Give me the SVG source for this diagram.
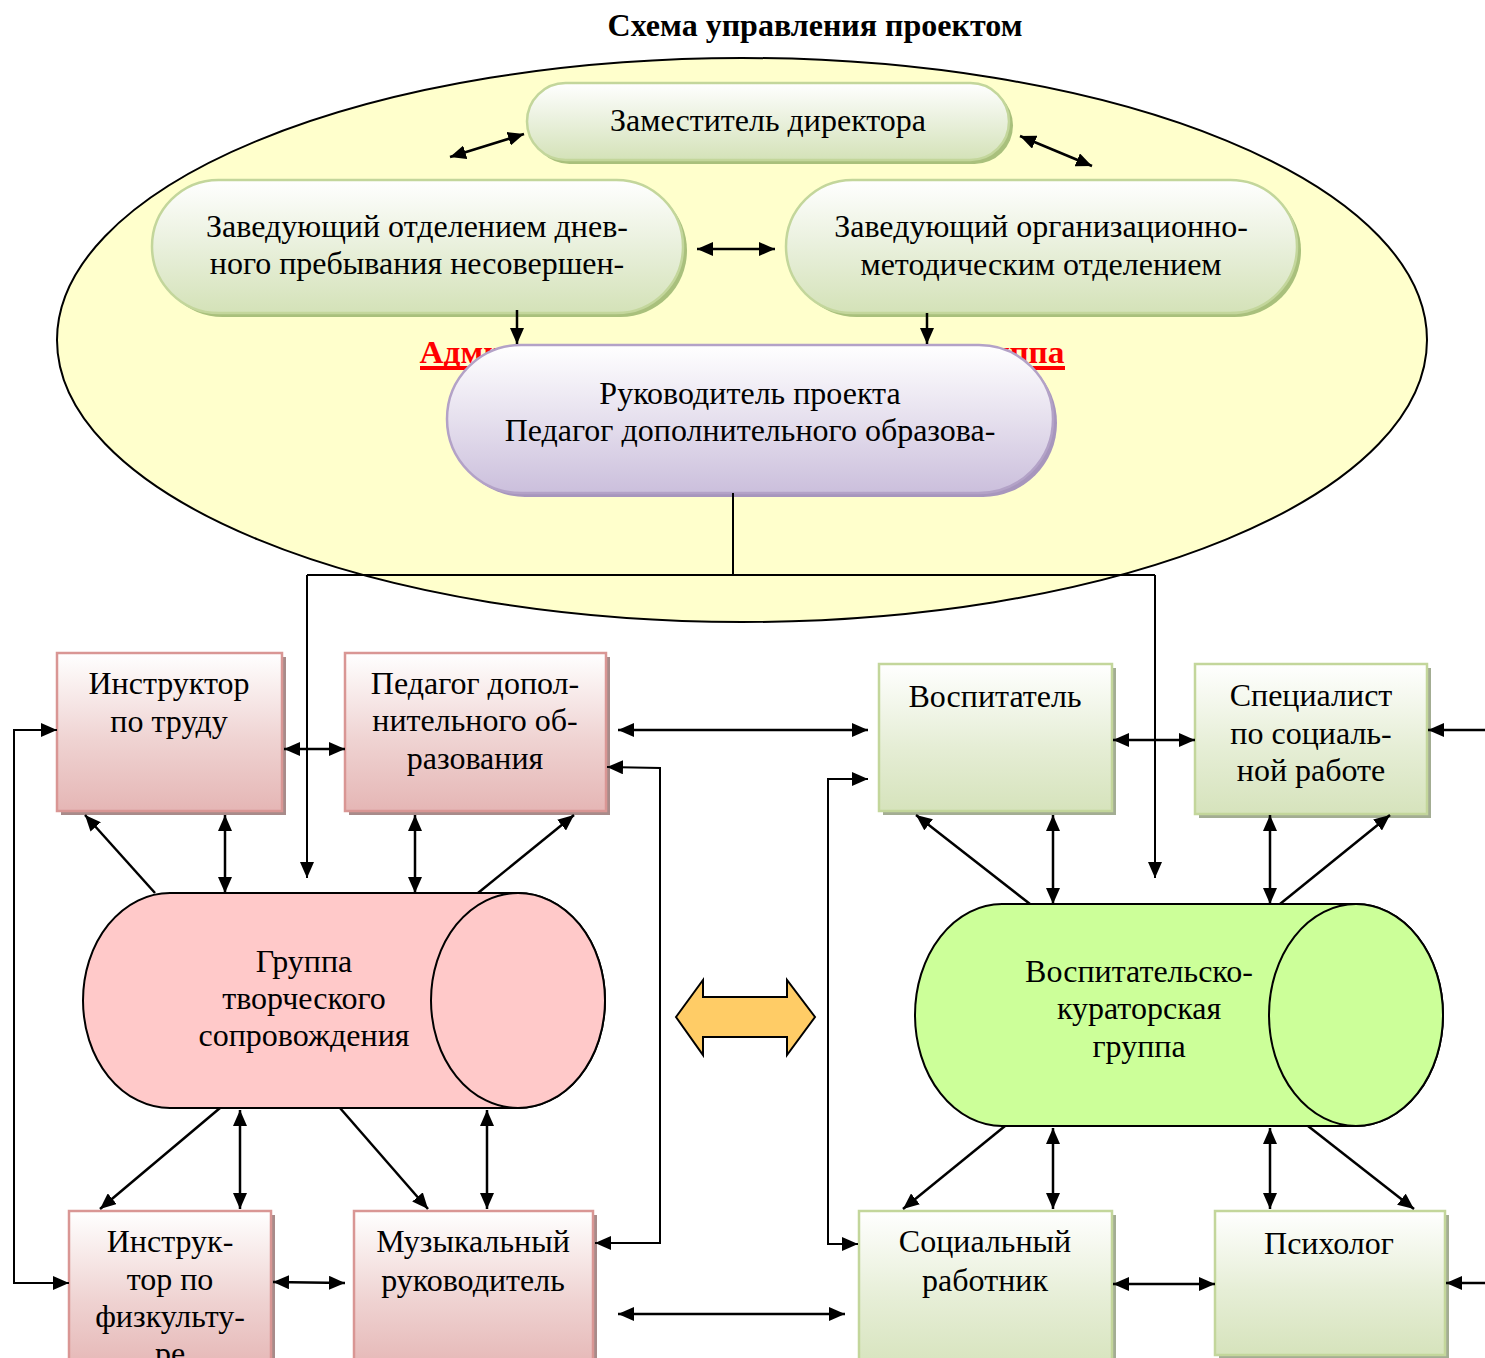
<svg xmlns="http://www.w3.org/2000/svg" width="1485" height="1358" viewBox="0 0 1485 1358">
<defs>
  <linearGradient id="gPink" x1="0" y1="0" x2="0" y2="1">
    <stop offset="0" stop-color="#ffffff"/>
    <stop offset="0.55" stop-color="#efd3d2"/>
    <stop offset="1" stop-color="#e5b6b5"/>
  </linearGradient>
  <linearGradient id="gGreen" x1="0" y1="0" x2="0" y2="1">
    <stop offset="0" stop-color="#ffffff"/>
    <stop offset="0.55" stop-color="#e6eed6"/>
    <stop offset="1" stop-color="#d6e3bc"/>
  </linearGradient>
  <linearGradient id="gPill" x1="0" y1="0" x2="0" y2="1">
    <stop offset="0" stop-color="#ffffff"/>
    <stop offset="0.5" stop-color="#e9f0dc"/>
    <stop offset="1" stop-color="#d4e2b8"/>
  </linearGradient>
  <linearGradient id="gPurple" x1="0" y1="0" x2="0" y2="1">
    <stop offset="0" stop-color="#ffffff"/>
    <stop offset="0.5" stop-color="#e6e0ee"/>
    <stop offset="1" stop-color="#cbbfdc"/>
  </linearGradient>
  <marker id="ah" markerUnits="userSpaceOnUse" markerWidth="18" markerHeight="14" refX="16" refY="7" orient="auto-start-reverse">
    <path d="M0,0 L16,7 L0,14 Z" fill="#000"/>
  </marker>
  <style>
    .t { font-family: "Liberation Serif", "Times New Roman", serif; font-size: 32px; fill: #000; text-anchor: middle; }
    .pinkbox { fill: url(#gPink); stroke: #d99694; stroke-width: 2.5; }
    .pinkshadow { fill: #a88b8a; }
    .greenbox { fill: url(#gGreen); stroke: #c3d69b; stroke-width: 2.5; }
    .greenshadow { fill: #a3ad93; }
    .pill { fill: url(#gPill); stroke: #c3d69b; stroke-width: 2.5; }
    .pillshadow { fill: #a9c07c; }
    .conn { stroke: #000; stroke-width: 2.5; fill: none; }
    .thin { stroke: #000; stroke-width: 2; fill: none; }
  </style>
</defs>

<rect x="0" y="0" width="1485" height="1358" fill="#ffffff"/>

<text x="815" y="36" class="t" style="font-weight:bold;font-size:32px">Схема управления проектом</text>

<g id="admin-area">
  <ellipse cx="742" cy="340" rx="685" ry="282" fill="#ffffcc" stroke="#000" stroke-width="2"/>
  <text x="742" y="363" style="font-family:'Liberation Serif',serif;font-weight:bold;font-size:32px;fill:#ff0000;text-anchor:middle" textLength="645" lengthAdjust="spacingAndGlyphs">Административно-управленческая группа</text>
  <rect x="420" y="366" width="645" height="4" fill="#ff0000"/>
</g>

<g id="node-deputy">
  <rect x="531" y="87" width="482" height="77" rx="38.5" class="pillshadow"/>
  <rect x="527" y="83" width="482" height="77" rx="38.5" class="pill"/>
  <text x="768" y="131" class="t">Заместитель директора</text>
</g>

<g id="node-head-day">
  <rect x="156" y="184" width="531" height="133" rx="66.5" class="pillshadow"/>
  <rect x="152" y="180" width="531" height="133" rx="66.5" class="pill"/>
  <text x="417" y="237" class="t">Заведующий отделением днев-</text>
  <text x="417" y="274" class="t">ного пребывания несовершен-</text>
</g>

<g id="node-head-method">
  <rect x="790" y="184" width="511" height="133" rx="66.5" class="pillshadow"/>
  <rect x="786" y="180" width="511" height="133" rx="66.5" class="pill"/>
  <text x="1041" y="237" class="t">Заведующий организационно-</text>
  <text x="1041" y="275" class="t">методическим отделением</text>
</g>

<g id="node-leader">
  <rect x="451" y="349" width="606" height="148" rx="74" fill="#a796bd"/>
  <rect x="447" y="345" width="606" height="148" rx="74" fill="url(#gPurple)" stroke="#b3a2c7" stroke-width="2.5"/>
  <text x="750" y="404" class="t">Руководитель проекта</text>
  <text x="750" y="441" class="t">Педагог дополнительного образова-</text>
</g>

<g id="node-labor">
  <rect x="61" y="657" width="225" height="158" class="pinkshadow"/>
  <rect x="57" y="653" width="225" height="158" class="pinkbox"/>
  <text x="169" y="694" class="t">Инструктор</text>
  <text x="169" y="732" class="t">по труду</text>
</g>

<g id="node-teacher">
  <rect x="349" y="657" width="261" height="158" class="pinkshadow"/>
  <rect x="345" y="653" width="261" height="158" class="pinkbox"/>
  <text x="475" y="694" class="t">Педагог допол-</text>
  <text x="475" y="731" class="t">нительного об-</text>
  <text x="475" y="769" class="t">разования</text>
</g>

<g id="node-pe">
  <rect x="73" y="1215" width="202" height="160" class="pinkshadow"/>
  <rect x="69" y="1211" width="202" height="160" class="pinkbox"/>
  <text x="170" y="1252" class="t">Инструк-</text>
  <text x="170" y="1290" class="t">тор по</text>
  <text x="170" y="1327" class="t">физкульту-</text>
  <text x="170" y="1364" class="t">ре</text>
</g>

<g id="node-music">
  <rect x="358" y="1215" width="239" height="160" class="pinkshadow"/>
  <rect x="354" y="1211" width="239" height="160" class="pinkbox"/>
  <text x="473" y="1252" class="t">Музыкальный</text>
  <text x="473" y="1291" class="t">руководитель</text>
</g>

<g id="node-educator">
  <rect x="883" y="668" width="233" height="147" class="greenshadow"/>
  <rect x="879" y="664" width="233" height="147" class="greenbox"/>
  <text x="995" y="707" class="t">Воспитатель</text>
</g>

<g id="node-social-spec">
  <rect x="1199" y="668" width="232" height="150" class="greenshadow"/>
  <rect x="1195" y="664" width="232" height="150" class="greenbox"/>
  <text x="1311" y="706" class="t">Специалист</text>
  <text x="1311" y="744" class="t">по социаль-</text>
  <text x="1311" y="781" class="t">ной работе</text>
</g>

<g id="node-social-worker">
  <rect x="863" y="1215" width="253" height="160" class="greenshadow"/>
  <rect x="859" y="1211" width="253" height="160" class="greenbox"/>
  <text x="985" y="1252" class="t">Социальный</text>
  <text x="985" y="1291" class="t">работник</text>
</g>

<g id="node-psychologist">
  <rect x="1219" y="1215" width="230" height="144" class="greenshadow"/>
  <rect x="1215" y="1211" width="230" height="144" class="greenbox"/>
  <text x="1329" y="1254" class="t">Психолог</text>
</g>

<g id="node-creative-group">
  <path d="M170,893 H518 A87,107.5 0 0 1 518,1108 H170 A87,107.5 0 0 1 170,893 Z" fill="#ffc9c9" stroke="#000" stroke-width="2"/>
  <ellipse cx="518" cy="1000.5" rx="87" ry="107.5" fill="#ffc9c9" stroke="#000" stroke-width="2"/>
  <text x="304" y="972" class="t">Группа</text>
  <text x="304" y="1009" class="t">творческого</text>
  <text x="304" y="1046" class="t">сопровождения</text>
</g>

<g id="node-curator-group">
  <path d="M1002,904 H1356 A87,111 0 0 1 1356,1126 H1002 A87,111 0 0 1 1002,904 Z" fill="#ccff99" stroke="#000" stroke-width="2"/>
  <ellipse cx="1356" cy="1015" rx="87" ry="111" fill="#ccff99" stroke="#000" stroke-width="2"/>
  <text x="1139" y="982" class="t">Воспитательско-</text>
  <text x="1139" y="1019" class="t">кураторская</text>
  <text x="1139" y="1057" class="t">группа</text>
</g>

<g id="node-big-arrow">
  <polygon points="676,1017 703,980 703,997 787,997 787,980 815,1017 787,1055 787,1037 703,1037 703,1055" fill="#ffcc66" stroke="#000" stroke-width="2"/>
</g>

<g id="connectors">
  <line x1="450" y1="157" x2="524" y2="134" class="conn" marker-start="url(#ah)" marker-end="url(#ah)"/>
  <line x1="1020" y1="136" x2="1092" y2="166" class="conn" marker-start="url(#ah)" marker-end="url(#ah)"/>
  <line x1="697" y1="249" x2="775" y2="249" class="conn" marker-start="url(#ah)" marker-end="url(#ah)"/>
  <line x1="517" y1="310" x2="517" y2="344" class="conn" marker-end="url(#ah)"/>
  <line x1="927" y1="313" x2="927" y2="344" class="conn" marker-end="url(#ah)"/>
  <polyline points="733,493 733,575" class="thin"/>
  <polyline points="307,575 1155,575" class="thin"/>
  <polyline points="307,575 307,878" class="thin" marker-end="url(#ah)"/>
  <polyline points="1155,575 1155,878" class="thin" marker-end="url(#ah)"/>
  <line x1="155" y1="893" x2="85" y2="815" class="conn" marker-end="url(#ah)"/>
  <line x1="225" y1="815" x2="225" y2="893" class="conn" marker-start="url(#ah)" marker-end="url(#ah)"/>
  <line x1="415" y1="815" x2="415" y2="893" class="conn" marker-start="url(#ah)" marker-end="url(#ah)"/>
  <line x1="478" y1="893" x2="574" y2="815" class="conn" marker-end="url(#ah)"/>
  <line x1="284" y1="749" x2="345" y2="749" class="conn" marker-start="url(#ah)" marker-end="url(#ah)"/>
  <line x1="220" y1="1108" x2="100" y2="1209" class="conn" marker-end="url(#ah)"/>
  <line x1="240" y1="1110" x2="240" y2="1209" class="conn" marker-start="url(#ah)" marker-end="url(#ah)"/>
  <line x1="340" y1="1108" x2="428" y2="1209" class="conn" marker-end="url(#ah)"/>
  <line x1="487" y1="1110" x2="487" y2="1209" class="conn" marker-start="url(#ah)" marker-end="url(#ah)"/>
  <line x1="273" y1="1282" x2="345" y2="1283" class="conn" marker-start="url(#ah)" marker-end="url(#ah)"/>
  <polyline points="57,730 14,730 14,1283 69,1283" class="thin" marker-start="url(#ah)" marker-end="url(#ah)"/>
  <polyline points="607,767 660,768 660,1243 595,1243" class="thin" marker-start="url(#ah)" marker-end="url(#ah)"/>
  <line x1="618" y1="730" x2="868" y2="730" class="conn" marker-start="url(#ah)" marker-end="url(#ah)"/>
  <line x1="618" y1="1314" x2="845" y2="1314" class="conn" marker-start="url(#ah)" marker-end="url(#ah)"/>
  <polyline points="868,779 828,779 828,1244 858,1244" class="thin" marker-start="url(#ah)" marker-end="url(#ah)"/>
  <line x1="1113" y1="740" x2="1195" y2="740" class="conn" marker-start="url(#ah)" marker-end="url(#ah)"/>
  <line x1="1485" y1="730" x2="1428" y2="730" class="conn" marker-end="url(#ah)"/>
  <line x1="1485" y1="1283" x2="1446" y2="1283" class="conn" marker-end="url(#ah)"/>
  <line x1="1030" y1="904" x2="916" y2="815" class="conn" marker-end="url(#ah)"/>
  <line x1="1053" y1="815" x2="1053" y2="904" class="conn" marker-start="url(#ah)" marker-end="url(#ah)"/>
  <line x1="1270" y1="815" x2="1270" y2="904" class="conn" marker-start="url(#ah)" marker-end="url(#ah)"/>
  <line x1="1280" y1="904" x2="1390" y2="815" class="conn" marker-end="url(#ah)"/>
  <line x1="1005" y1="1126" x2="903" y2="1209" class="conn" marker-end="url(#ah)"/>
  <line x1="1053" y1="1128" x2="1053" y2="1209" class="conn" marker-start="url(#ah)" marker-end="url(#ah)"/>
  <line x1="1270" y1="1128" x2="1270" y2="1209" class="conn" marker-start="url(#ah)" marker-end="url(#ah)"/>
  <line x1="1308" y1="1126" x2="1414" y2="1209" class="conn" marker-end="url(#ah)"/>
  <line x1="1113" y1="1284" x2="1215" y2="1284" class="conn" marker-start="url(#ah)" marker-end="url(#ah)"/>
</g>
</svg>
